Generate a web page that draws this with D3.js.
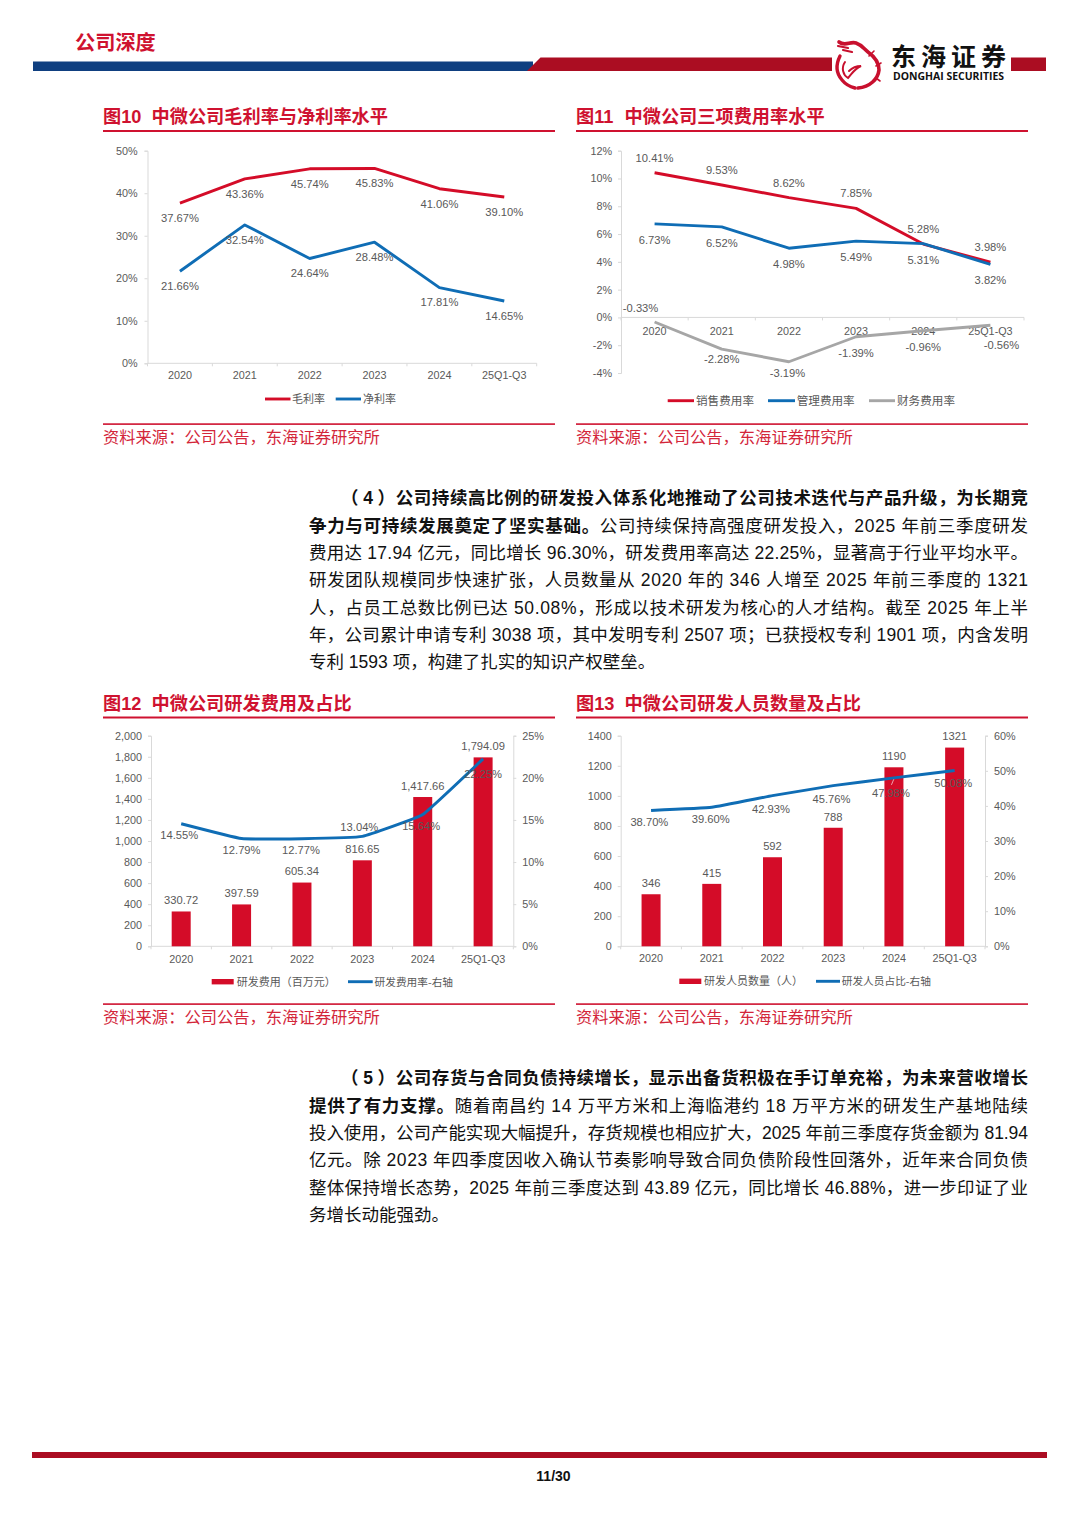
<!DOCTYPE html>
<html lang="zh"><head><meta charset="utf-8">
<script src="https://cdn.jsdelivr.net/npm/d3@7"></script>
<style>
html,body{margin:0;padding:0;background:#fff}
svg{display:block}
text{font-family:"Liberation Sans","Noto Sans CJK SC",sans-serif}
.cjk{font-family:"Noto Sans CJK SC",sans-serif}
</style></head><body>
<svg id="page" width="1080" height="1527" viewBox="0 0 1080 1527"></svg>
<script>
const categories = ["2020","2021","2022","2023","2024","25Q1-Q3"];
// Figure 10
const grossMargin = [37.67,43.36,45.74,45.83,41.06,39.10];
const netMargin = [21.66,32.54,24.64,28.48,17.81,14.65];
// Figure 11
const sellingRate = [10.41,9.53,8.62,7.85,5.28,3.98];
const adminRate = [6.73,6.52,4.98,5.49,5.31,3.82];
const financeRate = [-0.33,-2.28,-3.19,-1.39,-0.96,-0.56];
// Figure 12
const rdExpense = [330.72,397.59,605.34,816.65,1417.66,1794.09];
const rdExpenseRate = [14.55,12.79,12.77,13.04,15.64,22.25];
// Figure 13
const rdStaff = [346,415,592,788,1190,1321];
const rdStaffShare = [38.70,39.60,42.93,45.76,47.98,50.08];
// Axis ticks
const ticks10 = [0,10,20,30,40,50];
const ticks11 = [-4,-2,0,2,4,6,8,10,12];
const ticks12L = [0,200,400,600,800,1000,1200,1400,1600,1800,2000];
const ticks12R = [0,5,10,15,20,25];
const ticks13L = [0,200,400,600,800,1000,1200,1400];
const ticks13R = [0,10,20,30,40,50,60];
// Text
const sourceNote = "资料来源：公司公告，东海证券研究所";
const para4 = [
 [["（\u20094\u2009）公司持续高比例的研发投入体系化地推动了公司技术迭代与产品升级，为长期竞",1]],
 [["争力与可持续发展奠定了坚实基础。",1],["公司持续保持高强度研发投入，2025 年前三季度研发",0]],
 [["费用达 17.94 亿元，同比增长 96.30%，研发费用率高达 22.25%，显著高于行业平均水平。",0]],
 [["研发团队规模同步快速扩张，人员数量从 2020 年的 346 人增至 2025 年前三季度的 1321",0]],
 [["人，占员工总数比例已达 50.08%，形成以技术研发为核心的人才结构。截至 2025 年上半",0]],
 [["年，公司累计申请专利 3038 项，其中发明专利 2507 项；已获授权专利 1901 项，内含发明",0]],
 [["专利 1593 项，构建了扎实的知识产权壁垒。",0]]
];
const para5 = [
 [["（\u20095\u2009）公司存货与合同负债持续增长，显示出备货积极在手订单充裕，为未来营收增长",1]],
 [["提供了有力支撑。",1],["随着南昌约 14 万平方米和上海临港约 18 万平方米的研发生产基地陆续",0]],
 [["投入使用，公司产能实现大幅提升，存货规模也相应扩大，2025 年前三季度存货金额为 81.94",0]],
 [["亿元。除 2023 年四季度因收入确认节奏影响导致合同负债阶段性回落外，近年来合同负债",0]],
 [["整体保持增长态势，2025 年前三季度达到 43.89 亿元，同比增长 46.88%，进一步印证了业",0]],
 [["务增长动能强劲。",0]]
];

const RED="#d40c28", BLUE="#0f6db5", GRAY="#a6a6a6", DARK="#ab0d22", TITLE="#cf1230", TXT="#595959", AXIS="#d9d9d9";
const LINE_W=2.9;
const svg=d3.select("#page");
const pct=v=>v.toFixed(2)+"%";
const comma=d3.format(",.2f");

/* ---------- header ---------- */
svg.append("rect").attr("x",33).attr("y",61.5).attr("width",500).attr("height",9.5).attr("fill","#0f3f80");
svg.append("path").attr("d","M527,71L540.5,57.5H832V71Z").attr("fill",DARK);
svg.append("rect").attr("x",1011).attr("y",57.5).attr("width",35).attr("height",13.5).attr("fill",DARK);
svg.append("text").attr("class","cjk").attr("x",75).attr("y",49.5).attr("font-size",20.2).attr("font-weight",700).attr("fill",TITLE).text("公司深度");
const logo=svg.append("g").attr("fill","none").attr("stroke","#c8102e").attr("stroke-linecap","round");
[["M839,42C845,47 850,41 856,43C862,45 864,49 868,52C875,57 879,62 879,70C878,79 870,87 858,88",3.6],
 ["M840,56C836,64 836,73 842,80C846,85 851,87 855,88",3.4],
 ["M845,62C841,68 843,75 848,78C852,74 854,69 861,66C856,66 851,69 849,71",2],
 ["M838,46L848,48M843,50L852,52",2.2],
 ["M869,56L874,51M876,66L881,63M876,78L880,81",1.6]
].forEach(d=>logo.append("path").attr("d",d[0]).attr("stroke-width",d[1]));
svg.append("text").attr("class","cjk").attr("x",891).attr("y",65.5).attr("font-size",25).attr("font-weight",700).attr("fill","#111").attr("textLength",115).attr("lengthAdjust","spacing").text("东海证券");
svg.append("text").attr("x",893).attr("y",80).attr("font-size",9.8).attr("font-weight",700).attr("fill","#111").style("font-family","'Open Sans',sans-serif").attr("textLength",111).attr("lengthAdjust","spacingAndGlyphs").text("DONGHAI SECURITIES");

/* ---------- footer ---------- */
svg.append("rect").attr("x",32).attr("y",1452).attr("width",1015).attr("height",6).attr("fill",DARK);
svg.append("text").attr("x",553.5).attr("y",1481).attr("text-anchor","middle").attr("font-size",14).attr("font-weight",700).attr("fill","#111").text("11/30");

/* ---------- panel frame ---------- */
function frame(x,titleNo,title,titleY,ruleY,srcRuleY){
  svg.append("text").attr("x",x).attr("y",titleY+6.5).attr("font-size",18.2).attr("font-weight",700).attr("fill",TITLE).text(titleNo);
  svg.append("text").attr("class","cjk").attr("x",x+48.5).attr("y",titleY+6.5).attr("font-size",18.2).attr("font-weight",700).attr("fill",TITLE).text(title);
  svg.append("rect").attr("x",x).attr("y",ruleY-1).attr("width",452).attr("height",2).attr("fill",TITLE);
  svg.append("rect").attr("x",x).attr("y",srcRuleY-1).attr("width",452).attr("height",1.6).attr("fill",TITLE);
  svg.append("text").attr("class","cjk").attr("x",x).attr("y",srcRuleY+18.3).attr("font-size",16.3).attr("fill","#d3263a").text(sourceNote);
}
frame(103,"图10","中微公司毛利率与净利率水平",116,131,424.3);
frame(576,"图11","中微公司三项费用率水平",116,131,424.3);
frame(103,"图12","中微公司研发费用及占比",703,717.5,1004.3);
frame(576,"图13","中微公司研发人员数量及占比",703,717.5,1004.3);

/* ---------- chart helpers ---------- */
function styleAxis(g){
  g.selectAll(".domain,.tick line").attr("stroke",AXIS).attr("stroke-width",1);
  g.selectAll("text").attr("fill",TXT).attr("font-size",10.8).style("font-family",'"Liberation Sans",sans-serif');
}
function valueAxis(scale,x,ticks,fmt,side,pad){
  const ax=(side==="r"?d3.axisRight(scale):d3.axisLeft(scale)).tickValues(ticks).tickFormat(fmt).tickSize(3).tickPadding(pad||6);
  svg.append("g").attr("transform",`translate(${x},0)`).call(ax).call(styleAxis);
}
function catAxis(xs,y,labelOffset){
  const ax=d3.axisBottom(xs).tickSize(0).tickPadding(labelOffset-4);
  const g=svg.append("g").attr("transform",`translate(0,${y})`).call(ax).call(styleAxis);
  g.select(".domain").attr("d",`M${xs.range()[0]},0H${xs.range()[1]}`);
  const st=xs.step();
  d3.range(0,categories.length+1).forEach(i=>{
    g.append("line").attr("x1",xs.range()[0]+i*st).attr("x2",xs.range()[0]+i*st).attr("y1",0).attr("y2",3).attr("stroke",AXIS);
  });
  return g;
}
function drawLine(xs,ys,vals,color,curve){
  const l=d3.line().x((d,i)=>xs(categories[i])+xs.bandwidth()/2).y(d=>ys(d));
  if(curve) l.curve(curve);
  svg.append("path").attr("d",l(vals)).attr("fill","none").attr("stroke",color).attr("stroke-width",LINE_W).attr("stroke-linejoin","round");
}
function labels(xs,ys,vals,fmt,dx,dy){
  const bw=xs.bandwidth()/2;
  svg.append("g").selectAll("text").data(vals).join("text")
    .attr("x",(d,i)=>xs(categories[i])+bw+(dx[i]||0))
    .attr("y",(d,i)=>ys(d)+dy[i]+3.9)
    .attr("text-anchor","middle").attr("font-size",11.2).attr("fill",TXT).text(fmt);
}
function legendLine(x1,x2,y,color,label,tx,size){
  svg.append("line").attr("x1",x1).attr("x2",x2).attr("y1",y).attr("y2",y).attr("stroke",color).attr("stroke-width",LINE_W);
  svg.append("text").attr("class","cjk").attr("x",tx).attr("y",y+4).attr("font-size",size||11).attr("fill",TXT).text(label);
}
function legendBar(x1,x2,y,color,label,tx){
  svg.append("rect").attr("x",x1).attr("y",y-2.7).attr("width",x2-x1).attr("height",5.4).attr("fill",color);
  svg.append("text").attr("class","cjk").attr("x",tx).attr("y",y+4).attr("font-size",11).attr("fill",TXT).text(label);
}
const same=(n,v)=>d3.range(n).map(()=>v);
const softCurve=d3.curveCardinal.tension(0.72);

/* ---------- Figure 10 ---------- */
{
  const xs=d3.scaleBand().domain(categories).range([147.5,536.7]);
  const ys=d3.scaleLinear().domain([0,50]).range([363.3,150.7]);
  valueAxis(ys,147.5,ticks10,d=>d+"%",null,7);
  catAxis(xs,363.3,12.4);
  drawLine(xs,ys,grossMargin,RED);
  drawLine(xs,ys,netMargin,BLUE);
  labels(xs,ys,grossMargin,pct,[],same(6,15));
  labels(xs,ys,netMargin,pct,[],same(6,15));
  legendLine(265,290.5,399,RED,"毛利率",292);
  legendLine(335.7,361,399,BLUE,"净利率",363);
}
/* ---------- Figure 11 ---------- */
{
  const xs=d3.scaleBand().domain(categories).range([621,1024]);
  const ys=d3.scaleLinear().domain([-4,12]).range([373,150.7]);
  valueAxis(ys,621,ticks11,d=>d+"%");
  catAxis(xs,ys(0),14);
  drawLine(xs,ys,sellingRate,RED);
  drawLine(xs,ys,adminRate,BLUE);
  drawLine(xs,ys,financeRate,GRAY);
  labels(xs,ys,sellingRate,pct,[],same(6,-15));
  labels(xs,ys,adminRate,pct,[],same(6,16));
  labels(xs,ys,financeRate,pct,[-14,0,-1.5,0,0,11],[-14,10,11.4,16,16,20]);
  legendLine(667.7,694,400.7,RED,"销售费用率",696,11.6);
  legendLine(768,795,400.7,BLUE,"管理费用率",796.7,11.6);
  legendLine(869,895,400.7,GRAY,"财务费用率",897,11.6);
}
/* ---------- Figure 12 ---------- */
{
  const xs=d3.scaleBand().domain(categories).range([151,513.3]);
  const yl=d3.scaleLinear().domain([0,2000]).range([946.3,735.7]);
  const yr=d3.scaleLinear().domain([0,25]).range([946.3,735.7]);
  valueAxis(yl,151,ticks12L,d3.format(","));
  valueAxis(yr,513.3,ticks12R,d=>d+"%","r");
  catAxis(xs,946.3,12.7);
  svg.append("g").selectAll("rect").data(rdExpense).join("rect")
    .attr("x",(d,i)=>xs(categories[i])+xs.bandwidth()/2-9.5).attr("width",19)
    .attr("y",d=>yl(d)).attr("height",d=>yl(0)-yl(d)).attr("fill",RED);
  drawLine(xs,yr,rdExpenseRate,BLUE,softCurve);
  labels(xs,yl,rdExpense,comma,[],same(6,-11));
  labels(xs,yr,rdExpenseRate,pct,[-2,0,-1,-3,-1.6,0],[11.5,11.5,11.5,-9,12,15]);
  legendBar(211.7,233.7,981.7,RED,"研发费用（百万元）",236.7);
  legendLine(348,372.7,981.7,BLUE,"研发费用率-右轴",374.5,10.7);
}
/* ---------- Figure 13 ---------- */
{
  const xs=d3.scaleBand().domain(categories).range([620.7,985]);
  const yl=d3.scaleLinear().domain([0,1400]).range([946.3,735.7]);
  const yr=d3.scaleLinear().domain([0,60]).range([946.3,735.7]);
  valueAxis(yl,620.7,ticks13L,d=>d);
  valueAxis(yr,985,ticks13R,d=>d+"%","r");
  catAxis(xs,946.3,12);
  svg.append("g").selectAll("rect").data(rdStaff).join("rect")
    .attr("x",(d,i)=>xs(categories[i])+xs.bandwidth()/2-9.5).attr("width",19)
    .attr("y",d=>yl(d)).attr("height",d=>yl(0)-yl(d)).attr("fill",RED);
  // short white leader from the 2024 point towards its label
  const cx=xs(categories[4])+xs.bandwidth()/2, cy=yr(rdStaffShare[4]);
  svg.append("line").attr("x1",cx).attr("y1",cy+1).attr("x2",cx-2.5).attr("y2",cy+7).attr("stroke","#f3c9cf").attr("stroke-width",0.8);
  drawLine(xs,yr,rdStaffShare,BLUE,softCurve);
  labels(xs,yl,rdStaff,d=>d,[],same(6,-11));
  labels(xs,yr,rdStaffShare,pct,[-1.7,-1,-1.6,-1.7,-3,-1.4],[12,12,13.4,13,15,13]);
  legendBar(679.3,701.3,981.3,RED,"研发人员数量（人）",704);
  legendLine(816,840,981.3,BLUE,"研发人员占比-右轴",841.7,10.7);
}
/* ---------- body text, justified to the column ---------- */
function paragraph(lines,firstX,ys){
  const R=1028, L=309, SIZE=17.5;
  lines.forEach((runs,i)=>{
    const x=i===0?firstX:L;
    const t=svg.append("text").attr("x",x).attr("y",ys[i]+6.3).attr("font-size",SIZE).attr("fill","#111").attr("xml:space","preserve");
    runs.forEach(r=>t.append("tspan").attr("font-weight",r[1]?700:400).text(r[0]));
    if(i<lines.length-1){
      const n=runs.reduce((a,r)=>a+r[0].length,0);
      const w=t.node().getComputedTextLength();
      t.attr("letter-spacing",((R-x-w)/(n-1)).toFixed(3));
    }
  });
}
paragraph(para4,341,[498,525.3,552.7,580,607.3,634.5,662]);
paragraph(para5,341,[1078,1105.3,1132.7,1160,1187.3,1214.5]);
</script>
</body></html>
